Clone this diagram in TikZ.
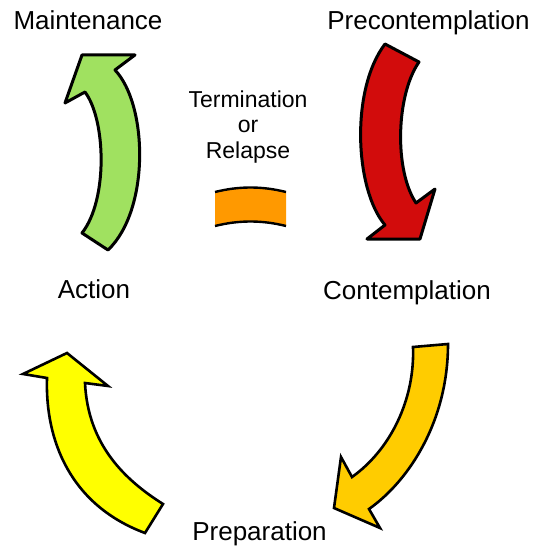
\documentclass[tikz,border=0pt]{standalone}
\usepackage{fontspec}
\setmainfont{Liberation Sans}
\begin{document}
\begin{tikzpicture}[x=1pt,y=-1pt,
  stagelabel/.style={anchor=base,inner sep=0pt,font=\fontsize{26}{28}\selectfont},
  midlabel/.style={anchor=base,inner sep=0pt,align=center,font=\fontsize{23}{25.5}\selectfont},
  bigarrow/.style={draw=black,line width=2.6pt,line join=miter},
  sketch/.style={draw=black,line width=3pt,line join=round}]
\definecolor{cred}{RGB}{210,12,12}
\definecolor{cgreen}{RGB}{160,225,96}
\definecolor{corange}{RGB}{255,153,0}
\definecolor{cgold}{RGB}{255,204,0}
\definecolor{cyellow}{RGB}{255,255,0}
\useasboundingbox (0,0) rectangle (533,548);

% Red arrow (Precontemplation -> Contemplation)
\path[sketch,fill=cred] (385,44) -- (419,62)
  .. controls (396,95) and (394,170) .. (416,203)
  -- (435,189) -- (420,239) -- (367,239) -- (385,225)
  .. controls (355,190) and (350,90) .. (385,44) -- cycle;

% Green arrow (Action -> Maintenance)
\path[sketch,fill=cgreen] (82,233) -- (108,250)
  .. controls (150,210) and (148,105) .. (115,70)
  -- (135,55) -- (82,55) -- (65,103) -- (85,92)
  .. controls (106,120) and (108,200) .. (82,233) -- cycle;

% Orange band (Termination or Relapse)
\fill[corange] (215,192) .. controls (239,186) and (262,186) .. (286,192) -- (286,226)
  .. controls (262,220) and (239,220) .. (215,226) -- cycle;
\draw[black,line width=2.4pt] (215,192) .. controls (239,186) and (262,186) .. (286,192);
\draw[black,line width=2.4pt] (215,226) .. controls (239,220) and (262,220) .. (286,226);

% Gold arrow (Contemplation -> Preparation)
\path[bigarrow,fill=cgold] (413,347) -- (448,344)
  .. controls (448,420) and (410,480) .. (369,509)
  -- (380,528) -- (334,508) -- (341,457) -- (352,477)
  .. controls (390,450) and (415,400) .. (413,347) -- cycle;

% Yellow arrow (Preparation -> Action)
\path[bigarrow,fill=cyellow] (67,353) -- (108,386) -- (85,383)
  .. controls (88,445) and (125,480) .. (163,504)
  -- (145,533)
  .. controls (70,505) and (45,440) .. (47,378)
  -- (23,374) -- cycle;

% Labels
\node[stagelabel] (maint) at (88,30) {Maintenance};
\node[stagelabel] (precon) at (428.5,30) {Precontemplation};
\node[stagelabel] (action) at (94,298) {Action};
\node[stagelabel] (contem) at (407,299) {Contemplation};
\node[stagelabel] (prep) at (259.5,540) {Preparation};
\node[midlabel] (term) at (248,158) {Termination\\or\\Relapse};
\end{tikzpicture}
\end{document}
